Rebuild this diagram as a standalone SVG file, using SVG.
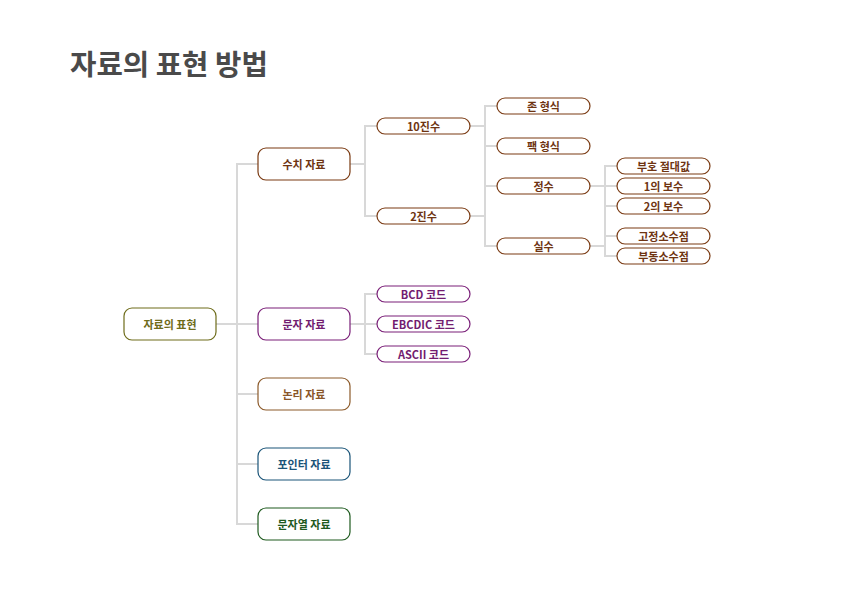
<svg xmlns="http://www.w3.org/2000/svg" width="842" height="595" viewBox="0 0 842 595">
<style>
text{font-family:"Noto Sans CJK KR","Noto Sans",sans-serif;font-weight:bold;text-anchor:middle;dominant-baseline:central}
.t{font-size:11px}
.title{font-size:28.7px;fill:#4a4a4a;text-anchor:start;dominant-baseline:auto}
rect{fill:#fff;stroke-width:1.2}
.c line,.c path{stroke:#d8d8d8;stroke-width:2;fill:none}
.root rect{stroke:#6e6c1a}.root text{fill:#6e6c1a}
.num rect{stroke:#7a3a12}.num text{fill:#6e3412}
.chr rect{stroke:#7a1f78}.chr text{fill:#721c70}
.log rect{stroke:#8c5a2a}.log text{fill:#8a5628}
.ptr rect{stroke:#1a5478}.ptr text{fill:#1a5478}
.str rect{stroke:#1e5a1e}.str text{fill:#1e5a1e}
</style>
<text class="title" x="70" y="75">자료의 표현 방법</text>
<g class="c">
<line x1="216" y1="324" x2="258" y2="324"/>
<path d="M258 164H237V524H258"/>
<line x1="237" y1="394" x2="258" y2="394"/>
<line x1="237" y1="464" x2="258" y2="464"/>
<line x1="350" y1="164" x2="365" y2="164"/>
<path d="M377 126H365V216H377"/>
<line x1="470" y1="126" x2="485" y2="126"/>
<line x1="470" y1="216" x2="485" y2="216"/>
<path d="M497 106H485V246H497"/>
<line x1="485" y1="146" x2="497" y2="146"/>
<line x1="485" y1="186" x2="497" y2="186"/>
<line x1="590" y1="186" x2="605" y2="186"/>
<line x1="590" y1="246" x2="605" y2="246"/>
<path d="M617 166H605V256H617"/>
<line x1="605" y1="186" x2="617" y2="186"/>
<line x1="605" y1="206" x2="617" y2="206"/>
<line x1="605" y1="236" x2="617" y2="236"/>
<line x1="350" y1="324" x2="365" y2="324"/>
<path d="M377 294H365V354H377"/>
<line x1="365" y1="324" x2="377" y2="324"/>
</g>
<g id="n-root" class="root"><rect x="124" y="308" width="92" height="32" rx="8"/><text class="t" x="170" y="324">자료의 표현</text></g>
<g id="n-num" class="num"><rect x="258" y="148" width="92" height="32" rx="8"/><text class="t" x="304" y="164">수치 자료</text></g>
<g id="n-chr" class="chr"><rect x="258" y="308" width="92" height="32" rx="8"/><text class="t" x="304" y="324">문자 자료</text></g>
<g id="n-log" class="log"><rect x="258" y="378" width="92" height="32" rx="8"/><text class="t" x="304" y="394">논리 자료</text></g>
<g id="n-ptr" class="ptr"><rect x="258" y="448" width="92" height="32" rx="8"/><text class="t" x="304" y="464">포인터 자료</text></g>
<g id="n-str" class="str"><rect x="258" y="508" width="92" height="32" rx="8"/><text class="t" x="304" y="524">문자열 자료</text></g>
<g id="n-dec" class="num"><rect x="377" y="118" width="93" height="16" rx="8"/><text class="t" x="423.5" y="126">10진수</text></g>
<g id="n-bin" class="num"><rect x="377" y="208" width="93" height="16" rx="8"/><text class="t" x="423.5" y="216">2진수</text></g>
<g id="n-zone" class="num"><rect x="497" y="98" width="93" height="16" rx="8"/><text class="t" x="543.5" y="106">존 형식</text></g>
<g id="n-pack" class="num"><rect x="497" y="138" width="93" height="16" rx="8"/><text class="t" x="543.5" y="146">팩 형식</text></g>
<g id="n-int" class="num"><rect x="497" y="178" width="93" height="16" rx="8"/><text class="t" x="543.5" y="186">정수</text></g>
<g id="n-real" class="num"><rect x="497" y="238" width="93" height="16" rx="8"/><text class="t" x="543.5" y="246">실수</text></g>
<g id="n-sign" class="num"><rect x="617" y="158" width="93" height="16" rx="8"/><text class="t" x="663.5" y="166">부호 절대값</text></g>
<g id="n-one" class="num"><rect x="617" y="178" width="93" height="16" rx="8"/><text class="t" x="663.5" y="186">1의 보수</text></g>
<g id="n-two" class="num"><rect x="617" y="198" width="93" height="16" rx="8"/><text class="t" x="663.5" y="206">2의 보수</text></g>
<g id="n-fix" class="num"><rect x="617" y="228" width="93" height="16" rx="8"/><text class="t" x="663.5" y="236">고정소수점</text></g>
<g id="n-flt" class="num"><rect x="617" y="248" width="93" height="16" rx="8"/><text class="t" x="663.5" y="256">부동소수점</text></g>
<g id="n-bcd" class="chr"><rect x="377" y="286" width="93" height="16" rx="8"/><text class="t" x="423.5" y="294">BCD 코드</text></g>
<g id="n-ebc" class="chr"><rect x="377" y="316" width="93" height="16" rx="8"/><text class="t" x="423.5" y="324">EBCDIC 코드</text></g>
<g id="n-asc" class="chr"><rect x="377" y="346" width="93" height="16" rx="8"/><text class="t" x="423.5" y="354">ASCII 코드</text></g>
</svg>
